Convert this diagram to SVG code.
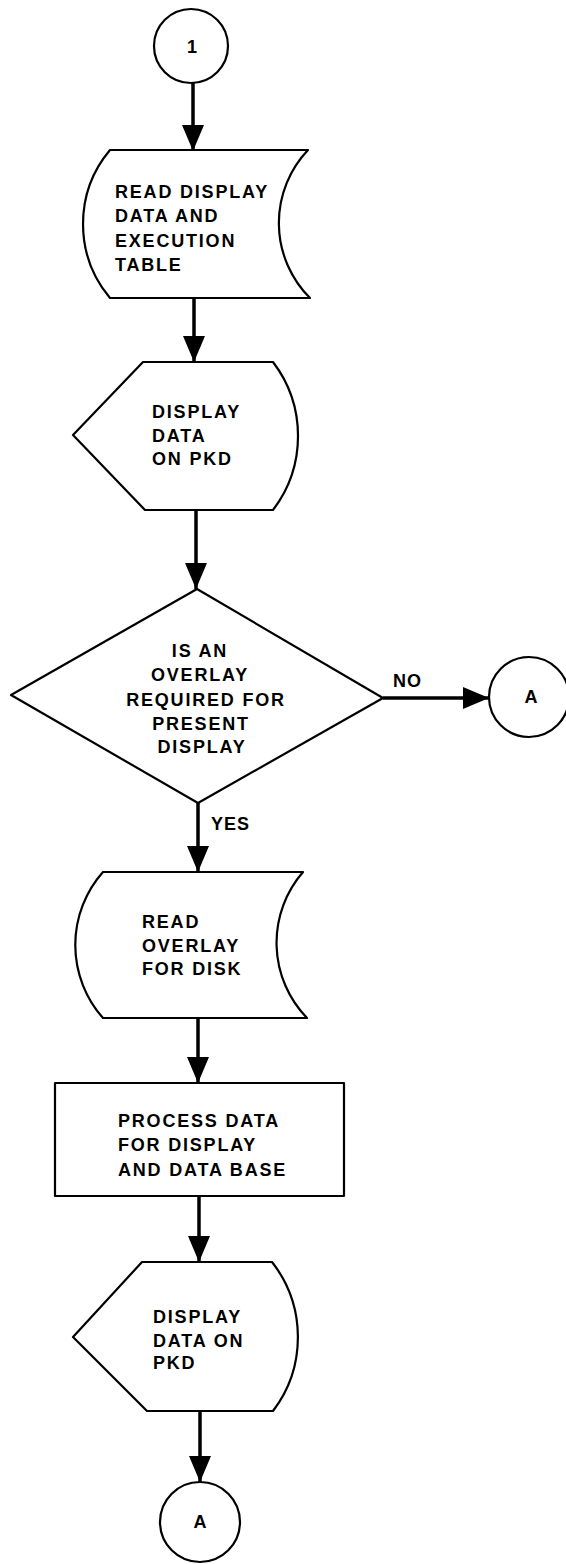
<svg xmlns="http://www.w3.org/2000/svg" width="566" height="1564" viewBox="0 0 566 1564">
<style>
.shape{fill:#fff;stroke:#000;stroke-width:2.2;stroke-linejoin:round}
.conn line{stroke:#000;stroke-width:3.5}
text{font-family:"Liberation Sans",Arial,sans-serif;font-weight:bold;font-size:18px;fill:#000;letter-spacing:1.8px}
.c{text-anchor:middle}
</style>
<defs>
<marker id="ah" markerUnits="userSpaceOnUse" markerWidth="26" markerHeight="22" refX="26" refY="11" orient="auto">
<path d="M0,0 L26,11 L0,22 Z" fill="#000"/>
</marker>
</defs>
<rect width="566" height="1564" fill="#fff"/>
<g class="conn" id="connectors">
<line x1="193" y1="83" x2="193" y2="151" marker-end="url(#ah)"/>
<line x1="194" y1="298" x2="194" y2="362" marker-end="url(#ah)"/>
<line x1="196" y1="510" x2="196" y2="589" marker-end="url(#ah)"/>
<line x1="198" y1="803" x2="198" y2="872" marker-end="url(#ah)"/>
<line x1="383" y1="698" x2="489" y2="698" marker-end="url(#ah)"/>
<line x1="198" y1="1018" x2="198" y2="1083" marker-end="url(#ah)"/>
<line x1="199" y1="1196" x2="199" y2="1262" marker-end="url(#ah)"/>
<line x1="200" y1="1411" x2="200" y2="1482" marker-end="url(#ah)"/>
<text x="393" y="687" style="letter-spacing:1px">NO</text>
<text x="211" y="830" style="letter-spacing:1px">YES</text>
</g>
<g id="start1">
<circle class="shape" cx="191" cy="46" r="37"/>
<text class="c" x="192" y="53" style="letter-spacing:0">1</text>
</g>
<g id="readDisplayData">
<path class="shape" d="M110,150 L308,150 A106,106 0 0 0 310,298 L110,298 A115,115 0 0 1 110,150 Z"/>
<text x="115" y="198">READ DISPLAY</text>
<text x="115" y="222">DATA AND</text>
<text x="115" y="247">EXECUTION</text>
<text x="115" y="271">TABLE</text>
</g>
<g id="displayData1">
<path class="shape" d="M143,362 L273,362 A122,122 0 0 1 273,510 L145,510 L73,435 Z"/>
<text x="152" y="418">DISPLAY</text>
<text x="152" y="442">DATA</text>
<text x="152" y="465">ON PKD</text>
</g>
<g id="overlayDecision">
<path class="shape" d="M197,589 L383,698 L198,803 L11,695 Z"/>
<text class="c" x="200" y="657">IS AN</text>
<text class="c" x="200" y="681">OVERLAY</text>
<text class="c" x="206" y="706">REQUIRED FOR</text>
<text class="c" x="201" y="730">PRESENT</text>
<text class="c" x="202" y="753">DISPLAY</text>
</g>
<g id="connectorA1">
<circle class="shape" cx="529" cy="697" r="40"/>
<text class="c" x="531" y="703" style="letter-spacing:0">A</text>
</g>
<g id="readOverlay">
<path class="shape" d="M103,872 L303,872 A108,108 0 0 0 307,1018 L103,1018 A110,110 0 0 1 103,872 Z"/>
<text x="142" y="928">READ</text>
<text x="142" y="952">OVERLAY</text>
<text x="142" y="975">FOR DISK</text>
</g>
<g id="processData">
<rect class="shape" x="55" y="1083" width="289" height="113"/>
<text x="118" y="1127">PROCESS DATA</text>
<text x="118" y="1151">FOR DISPLAY</text>
<text x="118" y="1176">AND DATA BASE</text>
</g>
<g id="displayData2">
<path class="shape" d="M142,1262 L272,1262 A122,122 0 0 1 273,1411 L147,1411 L73,1337 Z"/>
<text x="153" y="1323">DISPLAY</text>
<text x="153" y="1347">DATA ON</text>
<text x="153" y="1369">PKD</text>
</g>
<g id="connectorA2">
<circle class="shape" cx="200" cy="1522" r="40"/>
<text class="c" x="200" y="1528" style="letter-spacing:0">A</text>
</g>
</svg>
